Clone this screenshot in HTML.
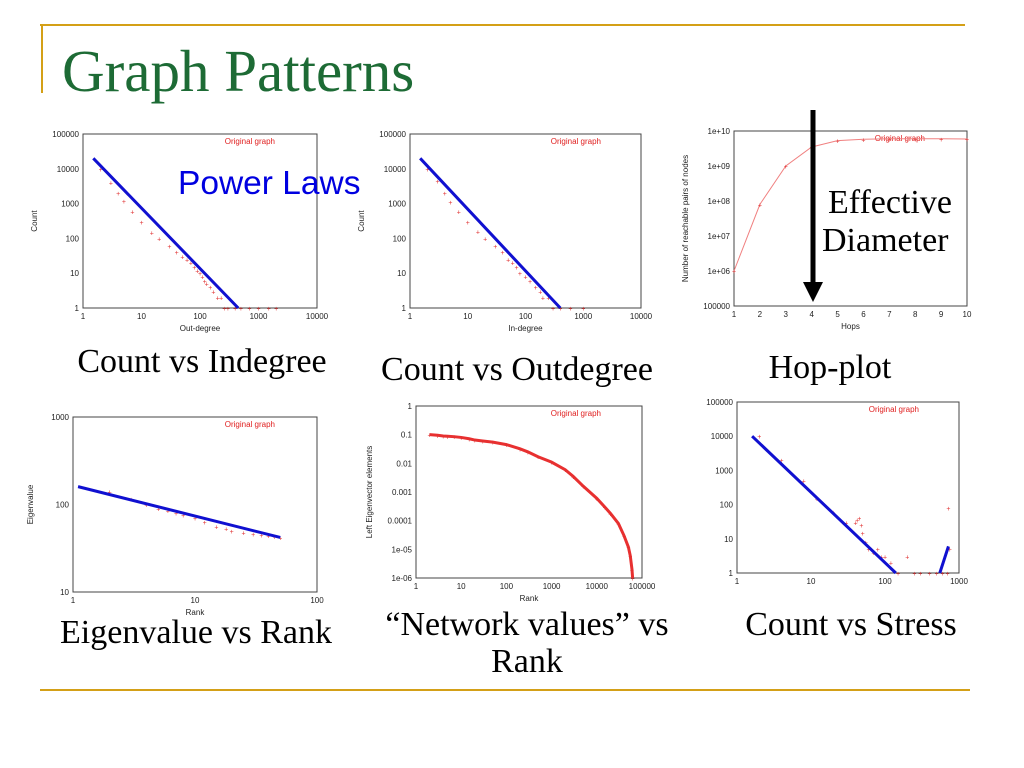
<!DOCTYPE html>
<html><head><meta charset="utf-8"><style>
html,body{margin:0;padding:0;background:#fff;}
svg{display:block;font-family:"Liberation Sans",sans-serif;}
.tk{font-size:8px;fill:#222;}
.cap{font-family:"Liberation Serif",serif;font-size:34px;fill:#000;}
</style></head><body>
<svg id="s" width="1024" height="768" viewBox="0 0 1024 768">
<line x1="40" y1="25" x2="965" y2="25" stroke="#d4a017" stroke-width="2"/>
<line x1="42" y1="25" x2="42" y2="93" stroke="#d4a017" stroke-width="2"/>
<line x1="40" y1="690" x2="970" y2="690" stroke="#d4a017" stroke-width="2"/>
<text x="62" y="91" font-family="Liberation Serif,serif" font-size="59" fill="#1d6b35">Graph Patterns</text>
<g id="charts"></g>
<text x="178" y="194" font-size="33.5" fill="#0000e0">Power Laws</text>
<text x="828" y="213" font-family="Liberation Serif,serif" font-size="34">Effective</text>
<text x="822" y="251" font-family="Liberation Serif,serif" font-size="34">Diameter</text>
<line x1="813" y1="110" x2="813" y2="285" stroke="#000" stroke-width="5"/>
<polygon points="803,282 823,282 813,302" fill="#000"/>
<text class="cap" x="202" y="372" text-anchor="middle">Count vs Indegree</text>
<text class="cap" x="517" y="380" text-anchor="middle">Count vs Outdegree</text>
<text class="cap" x="830" y="378" text-anchor="middle">Hop-plot</text>
<text class="cap" x="196" y="643" text-anchor="middle">Eigenvalue vs Rank</text>
<text class="cap" x="527" y="635" text-anchor="middle">“Network values” vs</text>
<text class="cap" x="527" y="672" text-anchor="middle">Rank</text>
<text class="cap" x="851" y="635" text-anchor="middle">Count vs Stress</text>
</svg>
<script>
// ---- data ----
const outDegX=[2,3,4,5,7,10,15,20,30,40,50,60,70,80,90,100,110,120,130,150,170,200,230,260,300,400,500,700,1000,1500,2000];
const outDegY=[10000,4000,2000,1200,600,300,150,100,60,40,30,25,20,15,12,10,8,6,5,4,3,2,2,1,1,1,1,1,1,1,1];
const outFitX=[1.5,450];const outFitY=[20000,1];
const inDegX=[2,3,4,5,7,10,15,20,30,40,50,60,70,80,100,120,150,180,200,250,300,400,600,1000];
const inDegY=[10000,4500,2000,1100,600,300,160,100,60,40,25,20,15,10,8,6,4,3,2,2,1,1,1,1];
const inFitX=[1.5,400];const inFitY=[20000,1];
const hops=[1,2,3,4,5,6,7,8,9,10];
const reach=[1e6,8e7,1e9,3.5e9,5.3e9,5.8e9,6e9,6e9,6e9,5.9e9];
const eigRank=[2,3,4,5,6,7,8,10,12,15,18,20,25,30,35,40,45,50];
const eigVal=[140,115,100,90,85,80,76,70,63,56,53,50,48,46,45,44,43,42];
const eigFitX=[1.1,50];const eigFitY=[160,42];
const nvRank=[2,3,4,5,7,10,15,20,30,50,100,200,300,500,1000,2000,3000,5000,10000,15000,20000,30000,40000,50000,55000,60000,62000];
const nvVal=[0.1,0.095,0.09,0.088,0.085,0.08,0.072,0.065,0.06,0.055,0.045,0.032,0.025,0.017,0.011,0.006,0.0035,0.0016,0.0006,0.0003,0.00018,0.00008,0.00003,0.000012,0.000006,0.000002,0.000001];
const stX=[2,4,8,12,20,30,40,42,45,48,50,55,60,70,80,90,100,120,150,200,250,300,400,500,600,700,720,750];
const stY=[10000,2000,500,150,60,30,30,35,40,25,15,8,5,4,5,3,3,2,1,3,1,1,1,1,1,1,80,5];
const stFitX=[1.6,140];const stFitY=[10000,1];
const stFit2X=[550,720];const stFit2Y=[1,6];
const NS='http://www.w3.org/2000/svg';
const root=document.getElementById('charts');
function mk(tag,at,parent){const e=document.createElementNS(NS,tag);for(const k in at)e.setAttribute(k,at[k]);(parent||root).appendChild(e);return e;}
function chart(name,o){
 const g=mk('g',{});
 
 
 const L=Math.log10;
 const sx=v=>o.x0+(L(v)-L(o.xmin))/(L(o.xmax)-L(o.xmin))*(o.x1-o.x0);
 const sxl=v=>o.x0+(v-o.xmin)/(o.xmax-o.xmin)*(o.x1-o.x0);
 const X=o.linx?sxl:sx;
 const Y=v=>o.y1-(L(v)-L(o.ymin))/(L(o.ymax)-L(o.ymin))*(o.y1-o.y0);
 const fr=mk('rect',{x:o.x0,y:o.y0,width:o.x1-o.x0,height:o.y1-o.y0,fill:'none',stroke:'#444','stroke-width':1},g);
 
 
 o.xt.forEach((t,i)=>{const v=o.xv[i];const tx=mk('text',{x:X(v),y:o.y1+11,'text-anchor':'middle',class:'tk'},g);tx.textContent=t;
  
  });
 o.yt.forEach((t,i)=>{const v=o.yv[i];const tx=mk('text',{x:o.x0-4,y:Y(v)+3,'text-anchor':'end',class:'tk'},g);tx.textContent=t;
  
  });
 if(o.xl){const t=mk('text',{x:(o.x0+o.x1)/2,y:o.y1+23,'text-anchor':'middle',class:'tk'},g);t.textContent=o.xl;
  
  }
 if(o.yl){const cx=o.x0-o.ylo,cy=(o.y0+o.y1)/2;const t=mk('text',{x:cx,y:cy,'text-anchor':'middle',class:'tk',transform:`rotate(-90 ${cx} ${cy})`},g);t.textContent=o.yl;
  
  }
 const lg=mk('text',{x:o.lgx,y:o.y0+10,'text-anchor':'end','font-size':8,style:'fill:#e02020'},g);lg.textContent='Original graph';
 
 
 if(o.line){const p=mk('polyline',{points:o.px.map((v,i)=>X(v)+','+Y(o.py[i])).join(' '),fill:'none',stroke:o.lc||'#f08080','stroke-width':o.lw||1},g);
  
  }
 o.px.forEach((v,i)=>{const c=mk('text',{x:X(v),y:Y(o.py[i])+3,'text-anchor':'middle','font-size':7,fill:'#e03030'},g);c.textContent='+';
  
  });
 (o.fits||[]).forEach(f=>{const l=mk('line',{x1:X(f[0][0]),y1:Y(f[1][0]),x2:X(f[0][1]),y2:Y(f[1][1]),stroke:'#1010d0','stroke-width':3},g);
  
  });
}
const p5=['1','10','100','1000','10000'],v5=[1,10,100,1000,10000];
const yc=['1','10','100','1000','10000','100000'],vc=[1,10,100,1000,10000,100000];
chart('chart-out-degree',{x0:83,x1:317,y0:134,y1:308,xmin:1,xmax:10000,ymin:1,ymax:100000,xt:p5,xv:v5,yt:yc,yv:vc,xl:'Out-degree',yl:'Count',ylo:46,lgx:275,px:outDegX,py:outDegY,fits:[[outFitX,outFitY]]});
chart('chart-in-degree',{x0:410,x1:641,y0:134,y1:308,xmin:1,xmax:10000,ymin:1,ymax:100000,xt:p5,xv:v5,yt:yc,yv:vc,xl:'In-degree',yl:'Count',ylo:46,lgx:601,px:inDegX,py:inDegY,fits:[[inFitX,inFitY]]});
chart('chart-hop-plot',{linx:true,x0:734,x1:967,y0:131,y1:306,xmin:1,xmax:10,ymin:1e5,ymax:1e10,xt:['1','2','3','4','5','6','7','8','9','10'],xv:hops,yt:['100000','1e+06','1e+07','1e+08','1e+09','1e+10'],yv:[1e5,1e6,1e7,1e8,1e9,1e10],xl:'Hops',yl:'Number of reachable pairs of nodes',ylo:46,lgx:925,px:hops,py:reach,line:true});
chart('chart-eigenvalue',{x0:73,x1:317,y0:417,y1:592,xmin:1,xmax:100,ymin:10,ymax:1000,xt:['1','10','100'],xv:[1,10,100],yt:['10','100','1000'],yv:[10,100,1000],xl:'Rank',yl:'Eigenvalue',ylo:40,lgx:275,px:eigRank,py:eigVal,fits:[[eigFitX,eigFitY]]});
chart('chart-network-values',{x0:416,x1:642,y0:406,y1:578,xmin:1,xmax:100000,ymin:1e-6,ymax:1,xt:['1','10','100','1000','10000','100000'],xv:[1,10,100,1000,10000,100000],yt:['1e-06','1e-05','0.0001','0.001','0.01','0.1','1'],yv:[1e-6,1e-5,1e-4,1e-3,0.01,0.1,1],xl:'Rank',yl:'Left Eigenvector elements',ylo:44,lgx:601,px:nvRank,py:nvVal,line:true,lw:3,lc:'#e83030'});
chart('chart-stress',{x0:737,x1:959,y0:402,y1:573,xmin:1,xmax:1000,ymin:1,ymax:100000,xt:['1','10','100','1000'],xv:[1,10,100,1000],yt:yc,yv:vc,lgx:919,px:stX,py:stY,fits:[[stFitX,stFitY],[stFit2X,stFit2Y]]});
</script>
</body></html>
